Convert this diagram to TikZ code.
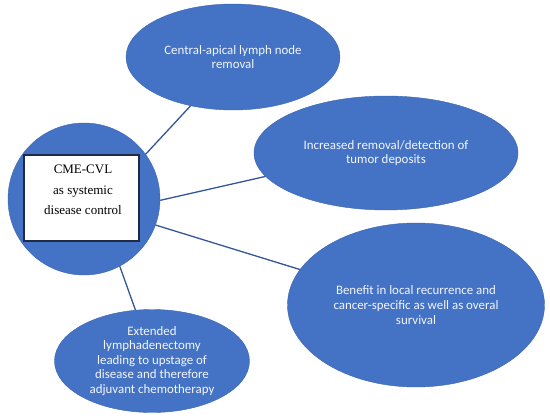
\documentclass[tikz,border=0pt]{standalone}
\usepackage{fontspec}
\setmainfont{Carlito}
\newfontfamily\boxfont{Liberation Serif}
\usetikzlibrary{shapes.geometric}
\definecolor{ellfill}{HTML}{4472C4}
\definecolor{ellline}{HTML}{3B65B0}
\definecolor{conn}{HTML}{34559A}
\definecolor{boxline}{HTML}{1F2A44}
\definecolor{bubtext}{HTML}{F4F6FB}
\begin{document}
\begin{tikzpicture}[x=1pt,y=-1pt,
  bubble/.style={ellipse, fill=ellfill, draw=ellline, line width=0.4pt, inner sep=0pt,
    text=bubtext, align=center, font=\fontsize{12.9}{14.6}\selectfont},
  link/.style={draw=conn, line width=1.3pt}]
\useasboundingbox (0,0) rectangle (550,418);
% hub
\node[circle, fill=ellfill, draw=ellline, line width=0.4pt, minimum size=152pt, inner sep=0pt] (hub) at (84,199) {};
\node[rectangle, fill=white, draw=boxline, line width=1.1pt, minimum width=115pt, minimum height=86pt, inner sep=0pt] (box) at (81.5,198) {};
\node[align=center, inner sep=0pt, font=\boxfont\fontsize{13}{20.5}\selectfont] (hubtext) at (83,190) {CME-CVL\\as systemic\\disease control};
% bubbles
\node[bubble, minimum width=214pt, minimum height=106pt] (top) at (233,57) {Central-apical lymph node\\removal};
\node[bubble, minimum width=264pt, minimum height=114pt] (deposits) at (386,153) {Increased removal/detection of\\tumor deposits};
\node[bubble, minimum width=257pt, minimum height=164pt] (benefit) at (416,305) {Benefit in local recurrence and\\cancer-specific as well as overal\\survival};
\node[bubble, minimum width=195pt, minimum height=103pt] (extended) at (152,361) {Extended\\lymphadenectomy\\leading to upstage of\\disease and therefore\\adjuvant chemotherapy};
% connectors
\draw[link] (hub.36) -- (top.229);
\draw[link] (hub.-1.5) -- (deposits.191);
\draw[link] (hub.-20) -- (benefit.163);
\draw[link] (hub.-62) -- (extended.108);
\end{tikzpicture}
\end{document}
